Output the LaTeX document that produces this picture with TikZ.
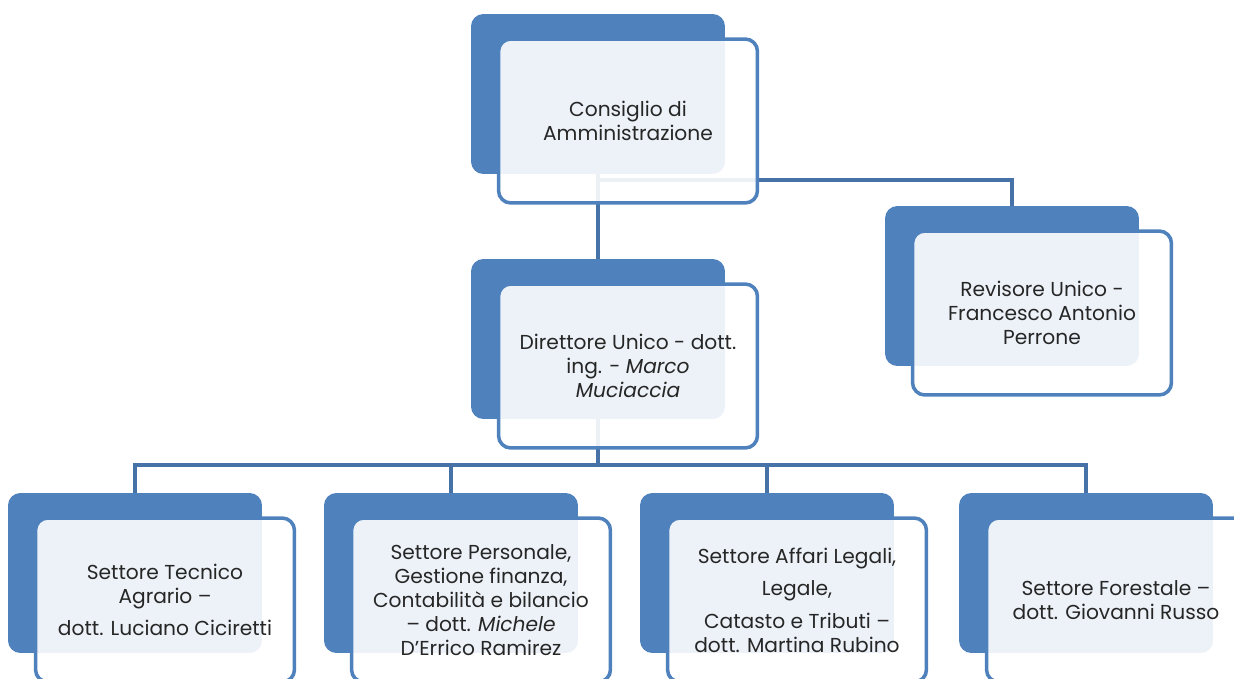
\documentclass[tikz,border=0pt]{standalone}
\usepackage{fontspec}
\setmainfont{Poppins}
\definecolor{darkbox}{RGB}{79,129,189}
\definecolor{linkline}{RGB}{70,114,168}
\pgfdeclarelayer{lines}
\pgfdeclarelayer{background}
\pgfsetlayers{lines,background,main}

\begin{document}
\begin{tikzpicture}[x=0.02cm, y=-0.02cm,
        main/.style = {draw=darkbox, line width=2pt, rounded corners=7pt, fill=white, fill opacity=0.9, text opacity=1, minimum width=5.18cm, minimum height=3.28cm, align=center, text=black!85, font=\fontsize{11.5}{13.6}\selectfont},
        back/.style = {fill=darkbox, rounded corners=7pt, minimum width=5.08cm, minimum height=3.2cm},
        link/.style = {draw=linkline, line width=2.3pt}]
    \useasboundingbox (0,0) rectangle (1234,679);
    \clip (0,0) rectangle (1234,679);
    \node[main] (1) at (628,121) {Consiglio di\\Amministrazione};
    \node[main] (2) at (628,366) {Direttore Unico - dott.\\ing. - \textit{Marco}\\\textit{Muciaccia}};
    \node[main] (3) at (1042,313) {Revisore Unico -\\Francesco Antonio\\Perrone};
    \node[main] (4) at (165,600) {Settore Tecnico\\Agrario –\\[5pt]dott. Luciano Ciciretti};
    \node[main] (5) at (481,600) {Settore Personale,\\Gestione finanza,\\Contabilità e bilancio\\– dott. \textit{Michele}\\D’Errico Ramirez};
    \node[main] (6) at (797,600) {Settore Affari Legali,\\[5pt]Legale,\\[5pt]Catasto e Tributi –\\dott. Martina Rubino};
    \node[main] (7) at (1116,600) {Settore Forestale –\\dott. Giovanni Russo};
    % dark boxes behind
    \begin{pgfonlayer}{background}
        \foreach \n in {1,...,7}
            \node[back] (b\n) at ([shift={(-30,-27)}]\n) {};
    \end{pgfonlayer}
    % connectors
    \begin{pgfonlayer}{lines}
        \draw[link] (b1) -- (b2);
        \draw[link] ([shift={(0,6)}]b1.south) -| (b3);
        \path (b2 |- 2.south) ++(0,15) coordinate (bus);
        \draw[link] (b2) -- (bus);
        \foreach \n in {4,...,7}
            \draw[link] (bus) -| (b\n);
    \end{pgfonlayer}
\end{tikzpicture}
\end{document}
